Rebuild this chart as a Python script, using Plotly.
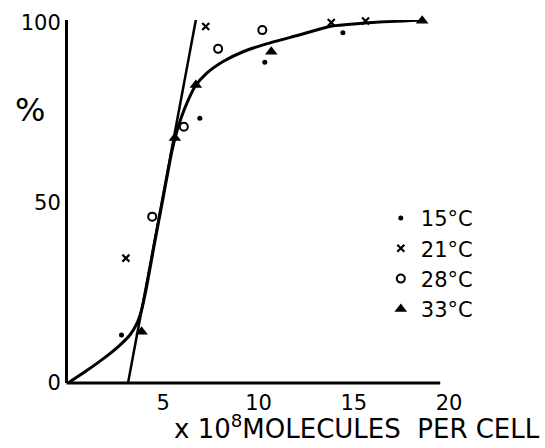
import plotly.graph_objects as go

# Data
x15 = [2.81, 6.92, 10.33, 14.43]
y15 = [13.3, 73.4, 88.9, 97.1]
x21 = [3.04, 7.23, 13.82, 15.62]
y21 = [34.6, 98.8, 99.9, 100.3]
x28 = [4.42, 6.08, 7.88, 10.2, 19.23]
y28 = [46.1, 71.0, 92.6, 97.8, 100.8]
x33 = [3.86, 5.61, 6.71, 10.67, 18.59]
y33 = [14.2, 67.9, 82.6, 91.8, 100.4]

curve_x = [0, 0.89, 1.77, 2.64, 3.25, 3.6, 3.86, 4.12, 4.5, 5.0, 5.45, 5.7, 5.96, 6.31, 6.66,
           7.27, 8.14, 9.19, 10.42, 12.17, 13.73, 16.0, 18.5]
curve_y = [0, 3.1, 6.4, 10.1, 13.3, 16.3, 20.2, 26.5, 37.5, 51.5, 64.2, 69.5, 73.8, 78.4, 82.1,
           85.8, 89.1, 91.8, 94.0, 96.5, 98.8, 99.9, 100.5]

line_x = [3.15, 6.75]
line_y = [0, 101.7]

x_ticks = [5, 10, 15, 20]
y_ticks = [0, 50, 100]

FONT = "DejaVu Sans"

fig = go.Figure()
fig.add_trace(go.Scatter(x=curve_x, y=curve_y, mode="lines",
                         line=dict(color="black", width=3, shape="spline", smoothing=0.6),
                         showlegend=False, cliponaxis=False, hoverinfo="skip"))
fig.add_trace(go.Scatter(x=line_x, y=line_y, mode="lines", line=dict(color="black", width=2.5),
                         showlegend=False, cliponaxis=False, hoverinfo="skip"))

fig.add_trace(go.Scatter(x=x15, y=y15, mode="markers", name="15°C",
                         marker=dict(symbol="circle", size=5, color="black"), cliponaxis=False))
fig.add_trace(go.Scatter(x=x21, y=y21, mode="markers", name="21°C",
                         marker=dict(symbol="x-thin", size=7, line=dict(color="black", width=2.2), color="black"),
                         cliponaxis=False))
fig.add_trace(go.Scatter(x=x28, y=y28, mode="markers", name="28°C",
                         marker=dict(symbol="circle-open", size=8, line=dict(color="black", width=2), color="black"),
                         cliponaxis=False))
fig.add_trace(go.Scatter(x=x33, y=y33, mode="markers", name="33°C",
                         marker=dict(symbol="triangle-up", size=11, color="black"), cliponaxis=False))

fig.update_layout(
    width=545, height=448,
    margin=dict(l=68, r=96, t=20, b=65),
    paper_bgcolor="white", plot_bgcolor="white",
    font=dict(family=FONT, color="black", size=21),
    xaxis=dict(range=[0, 20], tickvals=x_ticks, ticktext=[str(v) for v in x_ticks],
               showgrid=False, zeroline=False, showline=False, ticks="", ticklen=0, automargin=False,
               ticklabelstandoff=5, tickfont=dict(size=21, family=FONT)),
    yaxis=dict(range=[0, 100.6], tickvals=y_ticks, ticktext=[str(v) for v in y_ticks],
               showgrid=False, zeroline=False, showline=True, linecolor="black", linewidth=3,
               ticks="", ticklen=0, automargin=False, ticklabelstandoff=0, tickfont=dict(size=21, family=FONT)),
    legend=dict(x=0.821, y=0.51, xanchor="left", yanchor="top", bgcolor="rgba(0,0,0,0)",
                font=dict(size=21, family=FONT), itemwidth=30, tracegroupgap=0),
    shapes=[dict(type="line", xref="paper", yref="paper", x0=-0.004, x1=0.977, y0=0, y1=0,
                 line=dict(color="black", width=3))],
    annotations=[
        dict(text="x 10<sup>8</sup>MOLECULES  PER CELL", xref="paper", yref="paper", x=0.273, y=-0.121,
             xanchor="left", yanchor="middle", showarrow=False, font=dict(size=26, family=FONT)),
        dict(text="%", xref="paper", yref="paper", x=-0.0997, y=0.752, xanchor="center", yanchor="middle",
             showarrow=False, font=dict(size=32, family=FONT)),
    ],
)

fig.write_html("out.html", config={"displayModeBar": False},
               post_script="document.body.style.margin='0';document.body.style.overflow='hidden';")
